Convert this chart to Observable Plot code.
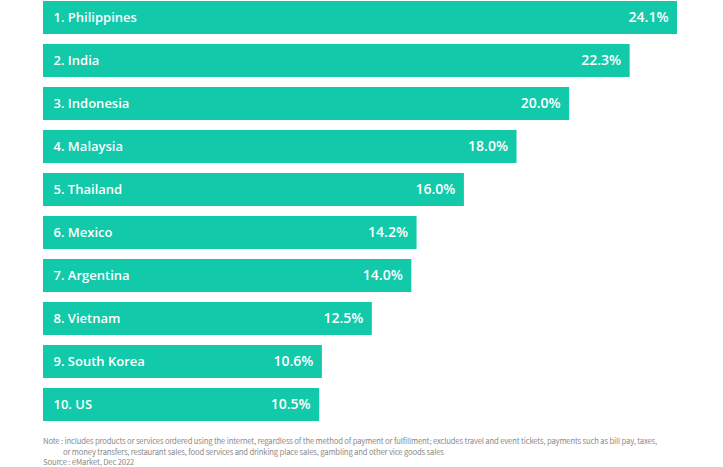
<!DOCTYPE html>
<html><head><meta charset="utf-8">
<script src="https://cdn.jsdelivr.net/npm/d3@7"></script>
<script src="https://cdn.jsdelivr.net/npm/@observablehq/plot@0.6"></script>
<style>
body{margin:0;background:#fff;font-family:"Noto Sans CJK KR","Noto Sans",sans-serif;}
#notes{margin-left:43px;margin-top:13px;font-size:7.7px;letter-spacing:-0.17px;color:#8a8a8a;line-height:10.5px;white-space:nowrap;}
#notes .ind{padding-left:20px;}
</style></head><body>
<div id="chart"></div>
<div id="notes">
<div>Note : includes products or services ordered using the internet, regardless of the method of payment or fulfillment; excludes travel and event tickets, payments such as bill pay, taxes,</div>
<div class="ind">or money transfers, restaurant sales, food services and drinking place sales, gambling and other vice goods sales</div>
<div>Source : eMarket, Dec 2022</div>
</div>
<script>
const countries = ["1. Philippines","2. India","3. Indonesia","4. Malaysia","5. Thailand","6. Mexico","7. Argentina","8. Vietnam","9. South Korea","10. US"];
const growth = [24.1,22.3,20.0,18.0,16.0,14.2,14.0,12.5,10.6,10.5];
const data = countries.map((c,i)=>({country:c, value:growth[i]}));
const chart = Plot.plot({
  width:723, height:423,
  marginLeft:43, marginRight:46, marginTop:1, marginBottom:2,
  x:{domain:[0,24.1], axis:null},
  y:{domain:countries, axis:null, paddingInner:0.232, paddingOuter:0, round:false},
  style:{fontFamily:'"Open Sans","Noto Sans",sans-serif'},
  marks:[
    Plot.barX(data,{x:"value", y:"country", fill:"#12c9a9"}),
    Plot.text(data,{x:0, y:"country", text:"country", textAnchor:"start", dx:10, fill:"white", fontSize:13, fontWeight:600}),
    Plot.text(data,{x:"value", y:"country", text:d=>d.value.toFixed(1)+"%", textAnchor:"end", dx:-9, fill:"white", fontSize:14, fontWeight:600})
  ]
});
document.getElementById("chart").append(chart);
</script>
</body></html>
